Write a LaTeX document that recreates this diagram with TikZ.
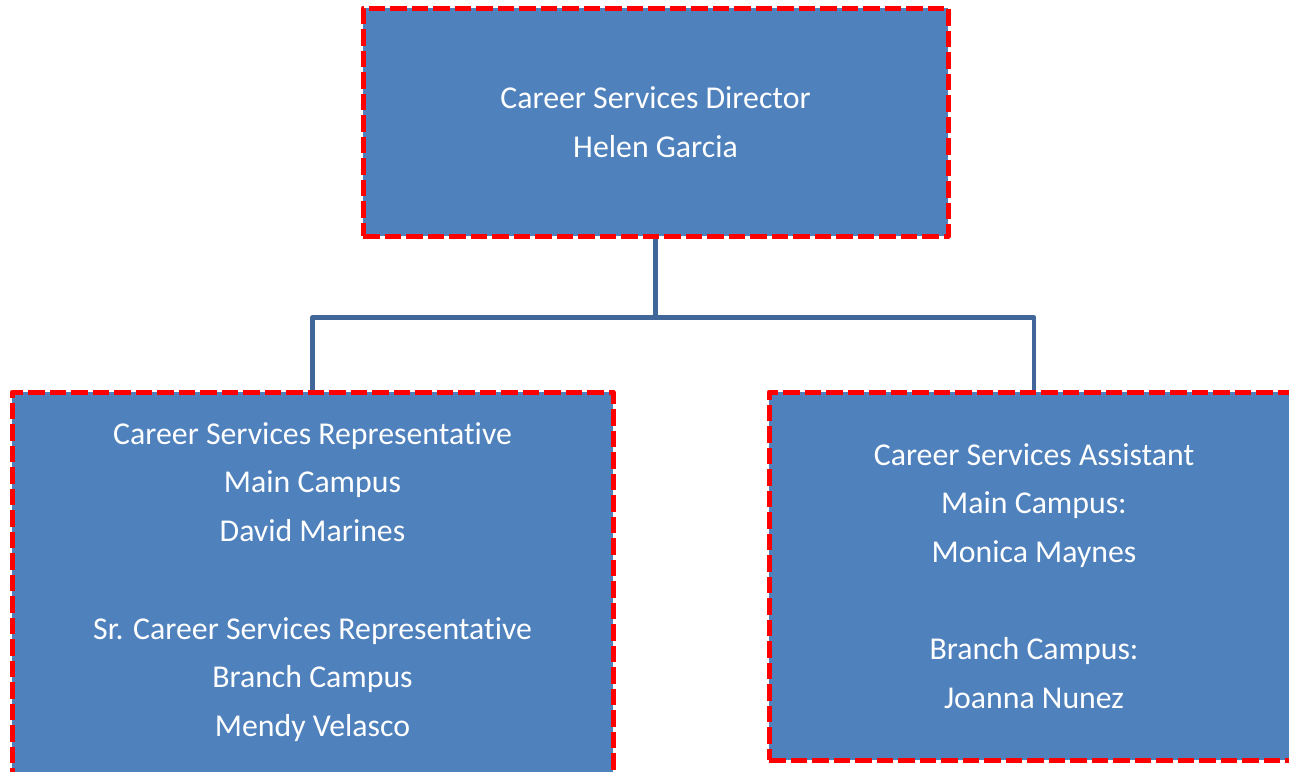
\documentclass[tikz,border=0pt]{standalone}
\usepackage{fontspec}
\setmainfont{Carlito}[Ligatures=NoCommon]
\usepackage{xcolor}
\usetikzlibrary{positioning,calc}
\definecolor{boxblue}{HTML}{4F81BD}
\definecolor{linkblue}{HTML}{41679A}
\begin{document}
\begin{tikzpicture}[line cap=butt,line join=round,x=1pt,y=1pt,
    orgbox/.style={draw=red,fill=boxblue,line width=5pt,dash pattern=on 16.5pt off 5pt,inner sep=0pt},
    orgtext/.style={text=white,align=center,font=\fontsize{31.8}{48.7}\selectfont},
    link/.style={draw=linkblue,line width=4.5pt}]
    \useasboundingbox (0,0) rectangle (1289,-771);
    \clip (0,0) rectangle (1289,-771);
    % boxes
    \node [orgbox,minimum width=585pt,minimum height=228pt] (director) at (655.5,-122) {};
    \node [orgbox,minimum width=601pt,minimum height=400pt] (rep) at (312.5,-592) {};
    \node [orgbox,minimum width=530pt,minimum height=368pt] (assist) at (1034,-576) {};
    % texts
    \node [orgtext] (directortxt) at (director.center) {Career Services Director\\Helen Garcia};
    \node [orgtext] (reptxt) at (312.5,-582) {Career Services Representative\\Main Campus\\David Marines\\[48.7pt]Sr. Career Services Representative\\Branch Campus\\Mendy Velasco};
    \node [orgtext] (assisttxt) at (assist.center) {Career Services Assistant\\Main Campus:\\Monica Maynes\\[48.7pt]Branch Campus:\\Joanna Nunez};
    % connectors
    \coordinate (bus) at ($(director.south)+(0,-79)$);
    \draw [link] (director.south) -- (bus);
    \draw [link] (bus) -| (rep.north);
    \draw [link] (bus) -| (assist.north);
\end{tikzpicture}
\end{document}
